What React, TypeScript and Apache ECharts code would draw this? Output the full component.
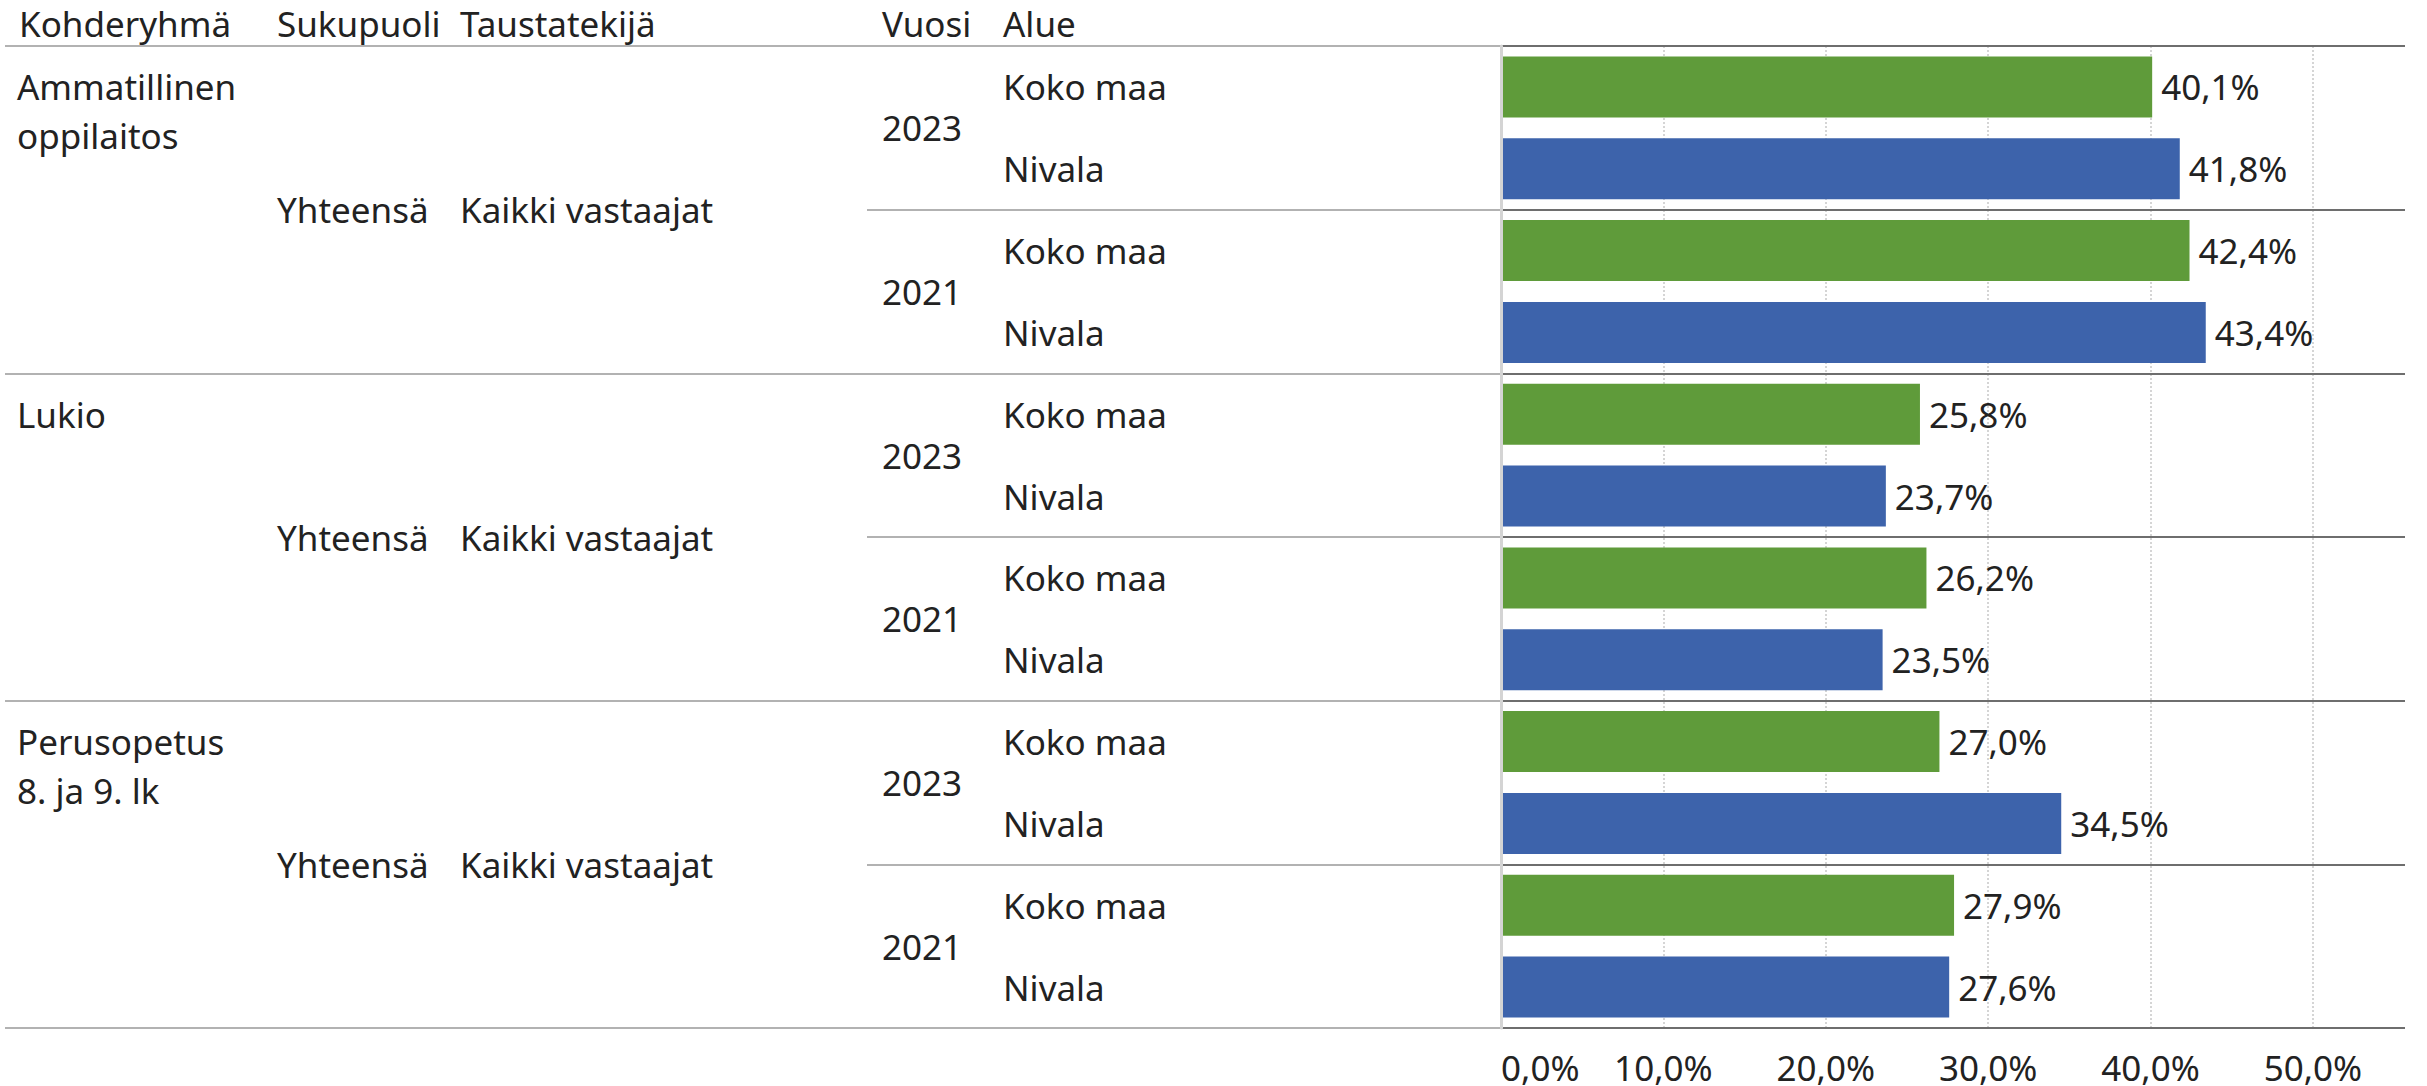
import React, { useEffect, useRef } from "react";
import * as echarts from "echarts";

const headers = ["Kohderyhmä", "Sukupuoli", "Taustatekijä", "Vuosi", "Alue"];
const groupLabels = ["\nAmmatillinen\noppilaitos", "Lukio", "\nPerusopetus\n8. ja 9. lk"];
const genderLabels = ["Yhteensä", "Yhteensä", "Yhteensä"];
const backgroundLabels = ["Kaikki vastaajat", "Kaikki vastaajat", "Kaikki vastaajat"];
const yearLabels = ["2023", "2021", "2023", "2021", "2023", "2021"];
const areaNames = ["Koko maa", "Nivala"];
const kokoMaaValues = [40.1, 42.4, 25.8, 26.2, 27.0, 27.9];
const nivalaValues = [41.8, 43.4, 23.7, 23.5, 34.5, 27.6];
const xMax = 55.67;
const xInterval = 10;

const FONT = "'Noto Sans', sans-serif";
const FS = 35;
const TXT = "#222222";

const rowIds = yearLabels.flatMap((_, i) => areaNames.map((a) => `r${i}-${a}`));
const areaLabels = yearLabels.flatMap(() => areaNames);
const yearIds = yearLabels.map((_, i) => `y${i}`);
const groupIds = groupLabels.map((_, i) => `g${i}`);
const groupRowLabels = rowIds.map((_, i) => (i % 4 === 0 ? groupLabels[i / 4] : ""));
const kokoSeries = rowIds.map((_, i) => (i % 2 === 0 ? kokoMaaValues[i / 2] : "-"));
const nivalaSeries = rowIds.map((_, i) => (i % 2 === 1 ? nivalaValues[(i - 1) / 2] : "-"));

const fmtPct = (v: number) => v.toFixed(1).replace(".", ",") + "%";

const headerX = [19, 277, 460, 882, 1003];

const baseLabel = { fontFamily: FONT, fontSize: FS, color: TXT };

function labelAxis(data: string[], labels: string[], x: number, extra: any = {}) {
  return {
    type: "category",
    gridIndex: 2,
    position: "left",
    inverse: true,
    data,
    axisLine: { show: false },
    axisTick: { show: false },
    axisLabel: {
      ...baseLabel,
      interval: 0,
      align: "left",
      margin: 1501 - x,
      formatter: (_: string, i: number) => labels[i],
      ...extra,
    },
    splitLine: { show: false },
  };
}

function buildOption() {
  const gridBase = { top: 46, bottom: 58, right: 22, outerBoundsMode: "none", containLabel: false };
  return {
    animation: false,
    backgroundColor: "#ffffff",
    textStyle: { fontFamily: FONT },
    grid: [
      { ...gridBase, left: 5 },
      { ...gridBase, left: 867 },
      { ...gridBase, left: 1501 },
    ],
    xAxis: [
      { type: "value", gridIndex: 0, show: false, min: 0, max: 1, position: "bottom" },
      { type: "value", gridIndex: 1, show: false, min: 0, max: 1, position: "bottom" },
      {
        type: "value",
        gridIndex: 2,
        position: "bottom",
        min: 0,
        max: xMax,
        interval: xInterval,
        axisLine: { show: false },
        axisTick: { show: false },
        axisLabel: {
          ...baseLabel,
          margin: 22,
          lineHeight: 34,
          showMaxLabel: false,
          alignMinLabel: "left",
          formatter: (v: number) => (Math.abs(v % xInterval) < 1e-6 ? fmtPct(v) : ""),
        },
        splitLine: {
          show: true,
          showMinLine: false,
          showMaxLine: false,
          lineStyle: { color: "#c8c8c8", width: 1.5, type: [2, 2] },
        },
      },
    ],
    yAxis: [
      {
        type: "category",
        gridIndex: 0,
        position: "left",
        inverse: true,
        data: groupIds,
        axisLine: { show: false },
        axisTick: { show: false },
        axisLabel: { show: false },
        splitLine: { show: true, lineStyle: { color: "#b2b2b2", width: 2 } },
      },
      {
        type: "category",
        gridIndex: 1,
        position: "left",
        inverse: true,
        data: yearIds,
        axisLine: { show: false },
        axisTick: { show: false },
        axisLabel: { show: false },
        splitLine: { show: true, lineStyle: { color: "#b2b2b2", width: 2 } },
      },
      {
        ...labelAxis(yearIds, yearLabels, 882),
        z: 3,
        splitLine: { show: true, lineStyle: { color: "#6e6e6e", width: 2 } },
      },
      {
        ...labelAxis(rowIds, areaLabels, 1003),
        z: 4,
        axisLine: { show: true, lineStyle: { color: "#d4d4d4", width: 3 } },
      },
      labelAxis(groupIds, genderLabels, 277),
      labelAxis(groupIds, backgroundLabels, 460),
      labelAxis(rowIds.map((id) => "k" + id), groupRowLabels, 17, { lineHeight: 49 }),
    ],
    series: [
      {
        name: areaNames[0],
        type: "bar",
        xAxisIndex: 2,
        yAxisIndex: 3,
        data: kokoSeries,
        barWidth: 61,
        barGap: "-100%",
        itemStyle: { color: "#5f9b3a" },
        label: {
          show: true,
          position: "right",
          distance: 9,
          ...baseLabel,
          formatter: (p: any) => fmtPct(p.value),
        },
      },
      {
        name: areaNames[1],
        type: "bar",
        xAxisIndex: 2,
        yAxisIndex: 3,
        data: nivalaSeries,
        barWidth: 61,
        barGap: "-100%",
        itemStyle: { color: "#3d63ab" },
        label: {
          show: true,
          position: "right",
          distance: 9,
          ...baseLabel,
          formatter: (p: any) => fmtPct(p.value),
        },
      },
    ],
    graphic: headers.map((h, i) => ({
      type: "text",
      x: headerX[i],
      y: 23,
      style: {
        text: h,
        fill: TXT,
        font: `${FS}px ${FONT}`,
        align: "left",
        verticalAlign: "middle",
      },
    })),
  };
}

export default function App() {
  const ref = useRef<HTMLDivElement>(null);
  useEffect(() => {
    if (!ref.current) return;
    const chart = echarts.init(ref.current, null, { renderer: "svg" });
    chart.setOption(buildOption() as any);
    return () => chart.dispose();
  }, []);
  return (
    <div
      ref={ref}
      style={{ position: "fixed", left: 0, top: 0, width: 2427, height: 1086, background: "#fff" }}
    />
  );
}
